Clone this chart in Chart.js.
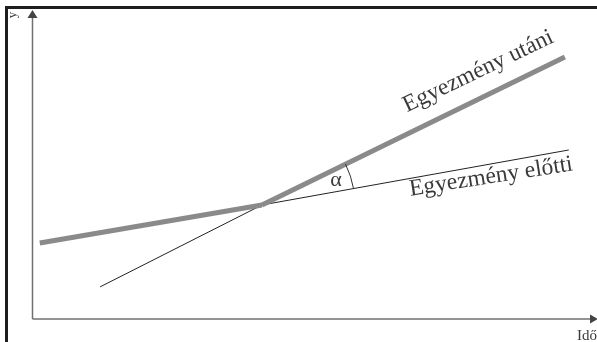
<!DOCTYPE html>
<html>
<head>
<meta charset="utf-8">
<script src="https://cdn.jsdelivr.net/npm/chart.js@4/dist/chart.umd.min.js"></script>
<style>
  html, body { margin: 0; padding: 0; background: #fff; }
  #wrap { position: relative; width: 597px; height: 342px; }
</style>
</head>
<body>
<div id="wrap"><canvas id="kyoto"></canvas></div>
<script>
// idő (x) és kibocsátás (y) értékek, 0-100 skálán
const timeBefore = [1.2, 40.6];
const valBefore = [24.6, 36.9];
const timeAfter = [40.6, 94.3];
const valAfter = [36.9, 84.8];
const timeBeforeTrend = [40.6, 95.0];
const valBeforeTrend = [36.9, 54.7];
const timeAfterTrend = [11.9, 40.6];
const valAfterTrend = [10.4, 36.9];

const labelAfter = "Egyezmény utáni";
const labelBefore = "Egyezmény előtti";
const axisX = "Idő";
const axisY = "y";

function pts(xs, ys) {
    return xs.map(function (x, i) { return { x: x, y: ys[i] }; });
}

// keret, tengelyek, nyilak, feliratok
const decorPlugin = {
    id: "decor",
    beforeDatasetsDraw: function (chart) {
        var ctx = chart.ctx;
        var xs = chart.scales.x, ys = chart.scales.y;
        var x0 = xs.getPixelForValue(0), y0 = ys.getPixelForValue(0);
        ctx.save();
        // frame
        ctx.fillStyle = "#1e1e1e";
        ctx.fillRect(5, 6, 592, 3);
        ctx.fillRect(5, 6, 3, 336);
        // axes
        ctx.strokeStyle = "#707070";
        ctx.lineWidth = 1.5;
        ctx.beginPath();
        ctx.moveTo(x0 - 0.5, y0);
        ctx.lineTo(x0 - 0.5, ys.getPixelForValue(100) + 6);
        ctx.moveTo(x0 - 0.5, y0);
        ctx.lineTo(xs.getPixelForValue(100) - 6, y0);
        ctx.stroke();
        ctx.fillStyle = "#444";
        ctx.beginPath();
        ctx.moveTo(x0 - 0.5, ys.getPixelForValue(100));
        ctx.lineTo(x0 - 5.5, ys.getPixelForValue(100) + 8);
        ctx.lineTo(x0 + 4.5, ys.getPixelForValue(100) + 8);
        ctx.closePath();
        ctx.fill();
        ctx.beginPath();
        ctx.moveTo(xs.getPixelForValue(100) + 1, y0);
        ctx.lineTo(xs.getPixelForValue(100) - 7, y0 - 4.5);
        ctx.lineTo(xs.getPixelForValue(100) - 7, y0 + 4.5);
        ctx.closePath();
        ctx.fill();
        // axis labels
        ctx.fillStyle = "#3a3a3a";
        ctx.font = "15px 'Liberation Serif'";
        ctx.textAlign = "left";
        ctx.textBaseline = "alphabetic";
        ctx.fillText(axisX, 577, 340);
        ctx.save();
        ctx.translate(13, 15);
        ctx.rotate(-Math.PI / 2);
        ctx.font = "13px 'Liberation Serif'";
        ctx.textAlign = "center";
        ctx.textBaseline = "middle";
        ctx.fillText(axisY, 0, 0);
        ctx.restore();
        ctx.restore();
    },
    afterDatasetsDraw: function (chart) {
        var ctx = chart.ctx;
        var xs = chart.scales.x, ys = chart.scales.y;
        var cx = xs.getPixelForValue(timeAfter[0]);
        var cy = ys.getPixelForValue(valAfter[0]);
        ctx.save();
        // angle arc
        var a1 = Math.atan2(ys.getPixelForValue(valAfter[1]) - cy, xs.getPixelForValue(timeAfter[1]) - cx);
        var a2 = Math.atan2(ys.getPixelForValue(valBeforeTrend[1]) - cy, xs.getPixelForValue(timeBeforeTrend[1]) - cx);
        ctx.strokeStyle = "#333";
        ctx.lineWidth = 1;
        ctx.beginPath();
        ctx.arc(cx, cy, 93, a1, a2);
        ctx.stroke();
        ctx.fillStyle = "#3a3a3a";
        ctx.font = "22px 'Liberation Serif'";
        ctx.textAlign = "center";
        ctx.textBaseline = "middle";
        ctx.fillText("α", 336, 180);
        // line labels
        ctx.font = "23.5px 'Liberation Serif'";
        ctx.textBaseline = "alphabetic";
        ctx.save();
        ctx.translate(481, 77);
        ctx.rotate(-25.5 * Math.PI / 180);
        ctx.fillText(labelAfter, 0, 0);
        ctx.restore();
        ctx.save();
        ctx.translate(492, 183);
        ctx.rotate(-8.8 * Math.PI / 180);
        ctx.fillText(labelBefore, 0, 0);
        ctx.restore();
        ctx.restore();
    }
};

var ctx1 = document.getElementById("kyoto").getContext("2d");
new Chart(ctx1, {
    type: "scatter",
    data: {
        datasets: [{
            label: "előtte",
            data: pts(timeBefore, valBefore),
            showLine: true,
            borderColor: "#8a8a8a",
            borderWidth: 5,
            pointRadius: 0,
            order: 1
        }, {
            label: "utána",
            data: pts(timeAfter, valAfter),
            showLine: true,
            borderColor: "#8a8a8a",
            borderWidth: 5,
            pointRadius: 0,
            order: 1
        }, {
            label: "előtte trend",
            data: pts(timeBeforeTrend, valBeforeTrend),
            showLine: true,
            borderColor: "#222",
            borderWidth: 1,
            pointRadius: 0,
            order: 2
        }, {
            label: "utána trend",
            data: pts(timeAfterTrend, valAfterTrend),
            showLine: true,
            borderColor: "#222",
            borderWidth: 1,
            pointRadius: 0,
            order: 2
        }]
    },
    options: {
        responsive: true,
        maintainAspectRatio: false,
        animation: false,
        layout: { padding: { left: 33, right: 0, top: 10, bottom: 23 } },
        plugins: {
            legend: { display: false },
            tooltip: { enabled: false }
        },
        scales: {
            x: { type: "linear", min: 0, max: 100, display: false },
            y: { type: "linear", min: 0, max: 100, display: false }
        }
    },
    plugins: [decorPlugin]
});
</script>
</body>
</html>
